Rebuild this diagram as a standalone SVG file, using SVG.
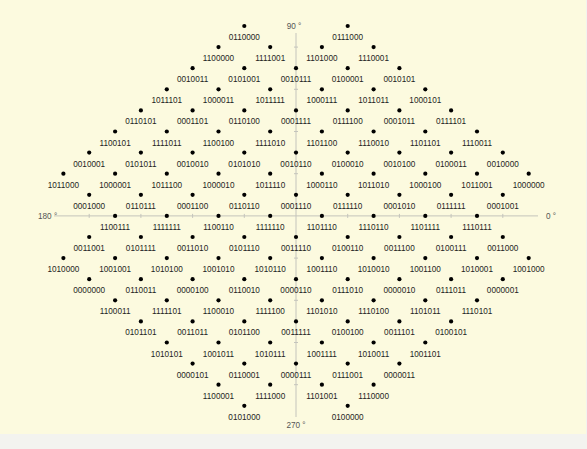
<svg xmlns="http://www.w3.org/2000/svg" width="587" height="449" viewBox="0 0 587 449">
<style>
.pt circle{fill:#000}
.pt text{font-family:"Liberation Sans",Arial,sans-serif;font-size:8.2px;fill:#1e1e1e;text-anchor:middle}
.ax{stroke:#c4c4bc;stroke-width:1;fill:none}
.lbl{font-family:"Liberation Sans",Arial,sans-serif;font-size:8.2px;fill:#555}
</style>
<rect x="0" y="0" width="587" height="449" fill="#f3f3ef"/>
<rect x="0" y="0" width="586" height="434" fill="#fcfadf"/>
<g id="axes">
<line class="ax" x1="54" y1="215.9" x2="538" y2="215.9"/>
<line class="ax" x1="296" y1="33" x2="296" y2="417"/>
<path class="ax" d="M89.2 213.9v4M140.9 213.9v4M192.6 213.9v4M244.3 213.9v4M347.7 213.9v4M399.4 213.9v4M451.1 213.9v4M502.8 213.9v4M294 47.1h4M294 89.3h4M294 131.5h4M294 173.7h4M294 258.1h4M294 300.3h4M294 342.5h4M294 384.7h4"/>
<text class="lbl" x="294" y="29" text-anchor="middle">90 °</text>
<text class="lbl" x="296" y="428" text-anchor="middle">270 °</text>
<text class="lbl" x="38" y="219">180 °</text>
<text class="lbl" x="546" y="219">0 °</text>
</g>
<g id="points">
<g class="pt" id="p0110000" transform="translate(244.3,26)"><circle r="2.1"/><text y="14">0110000</text></g>
<g class="pt" id="p0111000" transform="translate(347.7,26)"><circle r="2.1"/><text y="14">0111000</text></g>

<g class="pt" id="p1100000" transform="translate(218.5,47.1)"><circle r="2.1"/><text y="14">1100000</text></g>
<g class="pt" id="p1111001" transform="translate(270.2,47.1)"><circle r="2.1"/><text y="14">1111001</text></g>
<g class="pt" id="p1101000" transform="translate(321.9,47.1)"><circle r="2.1"/><text y="14">1101000</text></g>
<g class="pt" id="p1110001" transform="translate(373.6,47.1)"><circle r="2.1"/><text y="14">1110001</text></g>

<g class="pt" id="p0010011" transform="translate(192.6,68.2)"><circle r="2.1"/><text y="14">0010011</text></g>
<g class="pt" id="p0101001" transform="translate(244.3,68.2)"><circle r="2.1"/><text y="14">0101001</text></g>
<g class="pt" id="p0010111" transform="translate(296,68.2)"><circle r="2.1"/><text y="14">0010111</text></g>
<g class="pt" id="p0100001" transform="translate(347.7,68.2)"><circle r="2.1"/><text y="14">0100001</text></g>
<g class="pt" id="p0010101" transform="translate(399.4,68.2)"><circle r="2.1"/><text y="14">0010101</text></g>

<g class="pt" id="p1011101" transform="translate(166.8,89.3)"><circle r="2.1"/><text y="14">1011101</text></g>
<g class="pt" id="p1000011" transform="translate(218.5,89.3)"><circle r="2.1"/><text y="14">1000011</text></g>
<g class="pt" id="p1011111" transform="translate(270.2,89.3)"><circle r="2.1"/><text y="14">1011111</text></g>
<g class="pt" id="p1000111" transform="translate(321.9,89.3)"><circle r="2.1"/><text y="14">1000111</text></g>
<g class="pt" id="p1011011" transform="translate(373.6,89.3)"><circle r="2.1"/><text y="14">1011011</text></g>
<g class="pt" id="p1000101" transform="translate(425.3,89.3)"><circle r="2.1"/><text y="14">1000101</text></g>

<g class="pt" id="p0110101" transform="translate(140.9,110.4)"><circle r="2.1"/><text y="14">0110101</text></g>
<g class="pt" id="p0001101" transform="translate(192.6,110.4)"><circle r="2.1"/><text y="14">0001101</text></g>
<g class="pt" id="p0110100" transform="translate(244.3,110.4)"><circle r="2.1"/><text y="14">0110100</text></g>
<g class="pt" id="p0001111" transform="translate(296,110.4)"><circle r="2.1"/><text y="14">0001111</text></g>
<g class="pt" id="p0111100" transform="translate(347.7,110.4)"><circle r="2.1"/><text y="14">0111100</text></g>
<g class="pt" id="p0001011" transform="translate(399.4,110.4)"><circle r="2.1"/><text y="14">0001011</text></g>
<g class="pt" id="p0111101" transform="translate(451.1,110.4)"><circle r="2.1"/><text y="14">0111101</text></g>

<g class="pt" id="p1100101" transform="translate(115.1,131.5)"><circle r="2.1"/><text y="14">1100101</text></g>
<g class="pt" id="p1111011" transform="translate(166.8,131.5)"><circle r="2.1"/><text y="14">1111011</text></g>
<g class="pt" id="p1100100" transform="translate(218.5,131.5)"><circle r="2.1"/><text y="14">1100100</text></g>
<g class="pt" id="p1111010" transform="translate(270.2,131.5)"><circle r="2.1"/><text y="14">1111010</text></g>
<g class="pt" id="p1101100" transform="translate(321.9,131.5)"><circle r="2.1"/><text y="14">1101100</text></g>
<g class="pt" id="p1110010" transform="translate(373.6,131.5)"><circle r="2.1"/><text y="14">1110010</text></g>
<g class="pt" id="p1101101" transform="translate(425.3,131.5)"><circle r="2.1"/><text y="14">1101101</text></g>
<g class="pt" id="p1110011" transform="translate(477,131.5)"><circle r="2.1"/><text y="14">1110011</text></g>

<g class="pt" id="p0010001" transform="translate(89.2,152.6)"><circle r="2.1"/><text y="14">0010001</text></g>
<g class="pt" id="p0101011" transform="translate(140.9,152.6)"><circle r="2.1"/><text y="14">0101011</text></g>
<g class="pt" id="p0010010" transform="translate(192.6,152.6)"><circle r="2.1"/><text y="14">0010010</text></g>
<g class="pt" id="p0101010" transform="translate(244.3,152.6)"><circle r="2.1"/><text y="14">0101010</text></g>
<g class="pt" id="p0010110" transform="translate(296,152.6)"><circle r="2.1"/><text y="14">0010110</text></g>
<g class="pt" id="p0100010" transform="translate(347.7,152.6)"><circle r="2.1"/><text y="14">0100010</text></g>
<g class="pt" id="p0010100" transform="translate(399.4,152.6)"><circle r="2.1"/><text y="14">0010100</text></g>
<g class="pt" id="p0100011" transform="translate(451.1,152.6)"><circle r="2.1"/><text y="14">0100011</text></g>
<g class="pt" id="p0010000" transform="translate(502.8,152.6)"><circle r="2.1"/><text y="14">0010000</text></g>

<g class="pt" id="p1011000" transform="translate(63.4,173.7)"><circle r="2.1"/><text y="14">1011000</text></g>
<g class="pt" id="p1000001" transform="translate(115.1,173.7)"><circle r="2.1"/><text y="14">1000001</text></g>
<g class="pt" id="p1011100" transform="translate(166.8,173.7)"><circle r="2.1"/><text y="14">1011100</text></g>
<g class="pt" id="p1000010" transform="translate(218.5,173.7)"><circle r="2.1"/><text y="14">1000010</text></g>
<g class="pt" id="p1011110" transform="translate(270.2,173.7)"><circle r="2.1"/><text y="14">1011110</text></g>
<g class="pt" id="p1000110" transform="translate(321.9,173.7)"><circle r="2.1"/><text y="14">1000110</text></g>
<g class="pt" id="p1011010" transform="translate(373.6,173.7)"><circle r="2.1"/><text y="14">1011010</text></g>
<g class="pt" id="p1000100" transform="translate(425.3,173.7)"><circle r="2.1"/><text y="14">1000100</text></g>
<g class="pt" id="p1011001" transform="translate(477,173.7)"><circle r="2.1"/><text y="14">1011001</text></g>
<g class="pt" id="p1000000" transform="translate(528.7,173.7)"><circle r="2.1"/><text y="14">1000000</text></g>

<g class="pt" id="p0001000" transform="translate(89.2,194.8)"><circle r="2.1"/><text y="14">0001000</text></g>
<g class="pt" id="p0110111" transform="translate(140.9,194.8)"><circle r="2.1"/><text y="14">0110111</text></g>
<g class="pt" id="p0001100" transform="translate(192.6,194.8)"><circle r="2.1"/><text y="14">0001100</text></g>
<g class="pt" id="p0110110" transform="translate(244.3,194.8)"><circle r="2.1"/><text y="14">0110110</text></g>
<g class="pt" id="p0001110" transform="translate(296,194.8)"><circle r="2.1"/><text y="14">0001110</text></g>
<g class="pt" id="p0111110" transform="translate(347.7,194.8)"><circle r="2.1"/><text y="14">0111110</text></g>
<g class="pt" id="p0001010" transform="translate(399.4,194.8)"><circle r="2.1"/><text y="14">0001010</text></g>
<g class="pt" id="p0111111" transform="translate(451.1,194.8)"><circle r="2.1"/><text y="14">0111111</text></g>
<g class="pt" id="p0001001" transform="translate(502.8,194.8)"><circle r="2.1"/><text y="14">0001001</text></g>

<g class="pt" id="p1100111" transform="translate(115.1,215.9)"><circle r="2.1"/><text y="14">1100111</text></g>
<g class="pt" id="p1111111" transform="translate(166.8,215.9)"><circle r="2.1"/><text y="14">1111111</text></g>
<g class="pt" id="p1100110" transform="translate(218.5,215.9)"><circle r="2.1"/><text y="14">1100110</text></g>
<g class="pt" id="p1111110" transform="translate(270.2,215.9)"><circle r="2.1"/><text y="14">1111110</text></g>
<g class="pt" id="p1101110" transform="translate(321.9,215.9)"><circle r="2.1"/><text y="14">1101110</text></g>
<g class="pt" id="p1110110" transform="translate(373.6,215.9)"><circle r="2.1"/><text y="14">1110110</text></g>
<g class="pt" id="p1101111" transform="translate(425.3,215.9)"><circle r="2.1"/><text y="14">1101111</text></g>
<g class="pt" id="p1110111" transform="translate(477,215.9)"><circle r="2.1"/><text y="14">1110111</text></g>

<g class="pt" id="p0011001" transform="translate(89.2,237)"><circle r="2.1"/><text y="14">0011001</text></g>
<g class="pt" id="p0101111" transform="translate(140.9,237)"><circle r="2.1"/><text y="14">0101111</text></g>
<g class="pt" id="p0011010" transform="translate(192.6,237)"><circle r="2.1"/><text y="14">0011010</text></g>
<g class="pt" id="p0101110" transform="translate(244.3,237)"><circle r="2.1"/><text y="14">0101110</text></g>
<g class="pt" id="p0011110" transform="translate(296,237)"><circle r="2.1"/><text y="14">0011110</text></g>
<g class="pt" id="p0100110" transform="translate(347.7,237)"><circle r="2.1"/><text y="14">0100110</text></g>
<g class="pt" id="p0011100" transform="translate(399.4,237)"><circle r="2.1"/><text y="14">0011100</text></g>
<g class="pt" id="p0100111" transform="translate(451.1,237)"><circle r="2.1"/><text y="14">0100111</text></g>
<g class="pt" id="p0011000" transform="translate(502.8,237)"><circle r="2.1"/><text y="14">0011000</text></g>

<g class="pt" id="p1010000" transform="translate(63.4,258.1)"><circle r="2.1"/><text y="14">1010000</text></g>
<g class="pt" id="p1001001" transform="translate(115.1,258.1)"><circle r="2.1"/><text y="14">1001001</text></g>
<g class="pt" id="p1010100" transform="translate(166.8,258.1)"><circle r="2.1"/><text y="14">1010100</text></g>
<g class="pt" id="p1001010" transform="translate(218.5,258.1)"><circle r="2.1"/><text y="14">1001010</text></g>
<g class="pt" id="p1010110" transform="translate(270.2,258.1)"><circle r="2.1"/><text y="14">1010110</text></g>
<g class="pt" id="p1001110" transform="translate(321.9,258.1)"><circle r="2.1"/><text y="14">1001110</text></g>
<g class="pt" id="p1010010" transform="translate(373.6,258.1)"><circle r="2.1"/><text y="14">1010010</text></g>
<g class="pt" id="p1001100" transform="translate(425.3,258.1)"><circle r="2.1"/><text y="14">1001100</text></g>
<g class="pt" id="p1010001" transform="translate(477,258.1)"><circle r="2.1"/><text y="14">1010001</text></g>
<g class="pt" id="p1001000" transform="translate(528.7,258.1)"><circle r="2.1"/><text y="14">1001000</text></g>

<g class="pt" id="p0000000" transform="translate(89.2,279.2)"><circle r="2.1"/><text y="14">0000000</text></g>
<g class="pt" id="p0110011" transform="translate(140.9,279.2)"><circle r="2.1"/><text y="14">0110011</text></g>
<g class="pt" id="p0000100" transform="translate(192.6,279.2)"><circle r="2.1"/><text y="14">0000100</text></g>
<g class="pt" id="p0110010" transform="translate(244.3,279.2)"><circle r="2.1"/><text y="14">0110010</text></g>
<g class="pt" id="p0000110" transform="translate(296,279.2)"><circle r="2.1"/><text y="14">0000110</text></g>
<g class="pt" id="p0111010" transform="translate(347.7,279.2)"><circle r="2.1"/><text y="14">0111010</text></g>
<g class="pt" id="p0000010" transform="translate(399.4,279.2)"><circle r="2.1"/><text y="14">0000010</text></g>
<g class="pt" id="p0111011" transform="translate(451.1,279.2)"><circle r="2.1"/><text y="14">0111011</text></g>
<g class="pt" id="p0000001" transform="translate(502.8,279.2)"><circle r="2.1"/><text y="14">0000001</text></g>

<g class="pt" id="p1100011" transform="translate(115.1,300.3)"><circle r="2.1"/><text y="14">1100011</text></g>
<g class="pt" id="p1111101" transform="translate(166.8,300.3)"><circle r="2.1"/><text y="14">1111101</text></g>
<g class="pt" id="p1100010" transform="translate(218.5,300.3)"><circle r="2.1"/><text y="14">1100010</text></g>
<g class="pt" id="p1111100" transform="translate(270.2,300.3)"><circle r="2.1"/><text y="14">1111100</text></g>
<g class="pt" id="p1101010" transform="translate(321.9,300.3)"><circle r="2.1"/><text y="14">1101010</text></g>
<g class="pt" id="p1110100" transform="translate(373.6,300.3)"><circle r="2.1"/><text y="14">1110100</text></g>
<g class="pt" id="p1101011" transform="translate(425.3,300.3)"><circle r="2.1"/><text y="14">1101011</text></g>
<g class="pt" id="p1110101" transform="translate(477,300.3)"><circle r="2.1"/><text y="14">1110101</text></g>

<g class="pt" id="p0101101" transform="translate(140.9,321.4)"><circle r="2.1"/><text y="14">0101101</text></g>
<g class="pt" id="p0011011" transform="translate(192.6,321.4)"><circle r="2.1"/><text y="14">0011011</text></g>
<g class="pt" id="p0101100" transform="translate(244.3,321.4)"><circle r="2.1"/><text y="14">0101100</text></g>
<g class="pt" id="p0011111" transform="translate(296,321.4)"><circle r="2.1"/><text y="14">0011111</text></g>
<g class="pt" id="p0100100" transform="translate(347.7,321.4)"><circle r="2.1"/><text y="14">0100100</text></g>
<g class="pt" id="p0011101" transform="translate(399.4,321.4)"><circle r="2.1"/><text y="14">0011101</text></g>
<g class="pt" id="p0100101" transform="translate(451.1,321.4)"><circle r="2.1"/><text y="14">0100101</text></g>

<g class="pt" id="p1010101" transform="translate(166.8,342.5)"><circle r="2.1"/><text y="14">1010101</text></g>
<g class="pt" id="p1001011" transform="translate(218.5,342.5)"><circle r="2.1"/><text y="14">1001011</text></g>
<g class="pt" id="p1010111" transform="translate(270.2,342.5)"><circle r="2.1"/><text y="14">1010111</text></g>
<g class="pt" id="p1001111" transform="translate(321.9,342.5)"><circle r="2.1"/><text y="14">1001111</text></g>
<g class="pt" id="p1010011" transform="translate(373.6,342.5)"><circle r="2.1"/><text y="14">1010011</text></g>
<g class="pt" id="p1001101" transform="translate(425.3,342.5)"><circle r="2.1"/><text y="14">1001101</text></g>

<g class="pt" id="p0000101" transform="translate(192.6,363.6)"><circle r="2.1"/><text y="14">0000101</text></g>
<g class="pt" id="p0110001" transform="translate(244.3,363.6)"><circle r="2.1"/><text y="14">0110001</text></g>
<g class="pt" id="p0000111" transform="translate(296,363.6)"><circle r="2.1"/><text y="14">0000111</text></g>
<g class="pt" id="p0111001" transform="translate(347.7,363.6)"><circle r="2.1"/><text y="14">0111001</text></g>
<g class="pt" id="p0000011" transform="translate(399.4,363.6)"><circle r="2.1"/><text y="14">0000011</text></g>

<g class="pt" id="p1100001" transform="translate(218.5,384.7)"><circle r="2.1"/><text y="14">1100001</text></g>
<g class="pt" id="p1111000" transform="translate(270.2,384.7)"><circle r="2.1"/><text y="14">1111000</text></g>
<g class="pt" id="p1101001" transform="translate(321.9,384.7)"><circle r="2.1"/><text y="14">1101001</text></g>
<g class="pt" id="p1110000" transform="translate(373.6,384.7)"><circle r="2.1"/><text y="14">1110000</text></g>

<g class="pt" id="p0101000" transform="translate(244.3,405.8)"><circle r="2.1"/><text y="14">0101000</text></g>
<g class="pt" id="p0100000" transform="translate(347.7,405.8)"><circle r="2.1"/><text y="14">0100000</text></g>
</g>
</svg>
